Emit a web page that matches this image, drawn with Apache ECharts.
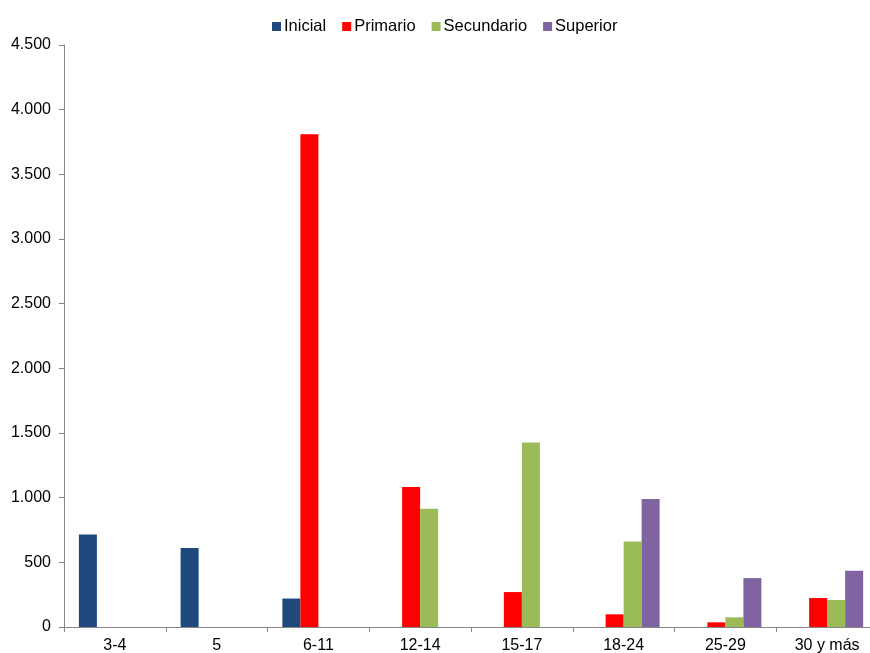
<!DOCTYPE html>
<html>
<head>
<meta charset="utf-8">
<script src="https://cdn.jsdelivr.net/npm/echarts@6/dist/echarts.min.js"></script>
<style>
  html, body { margin: 0; padding: 0; background: #fff; overflow: hidden; }
  #chart { width: 870px; height: 653px; }
</style>
</head>
<body>
<div id="chart"></div>
<script>
// Age groups on the category axis
const categories = ['3-4', '5', '6-11', '12-14', '15-17', '18-24', '25-29', '30 y más'];

// Enrolment by education level per age group
const inicial    = [715, 610, 220, null, null, null, null, null];
const primario   = [null, null, 3810, 1082, 270, 98, 36, 224];
const secundario = [null, null, null, 915, 1427, 662, 75, 209];
const superior   = [null, null, null, null, null, 989, 378, 435];

const seriesNames = ['Inicial', 'Primario', 'Secundario', 'Superior'];
const seriesColors = ['#1F497D', '#FF0000', '#9BBB59', '#8064A2'];
const seriesData = [inicial, primario, secundario, superior];

const fontFamily = 'Liberation Sans, Arial, sans-serif';

function fmtThousands(v) {
  return String(v).replace(/\B(?=(\d{3})+(?!\d))/g, '.');
}

const chart = echarts.init(document.getElementById('chart'));
chart.setOption({
  animation: false,
  textStyle: { fontFamily: fontFamily },
  legend: {
    top: 18,
    left: 272,
    padding: 0,
    itemWidth: 9,
    itemHeight: 9,
    itemGap: 16,
    icon: 'rect',
    textStyle: { fontSize: 16.5, color: '#000', fontFamily: fontFamily, padding: [0, 0, 0, -2] },
    data: seriesNames
  },
  // The plot extends slightly past the right edge of the canvas
  grid: {
    left: 64, width: 814, top: 45, bottom: 26,
    containLabel: false,
    outerBoundsMode: 'none'
  },
  xAxis: {
    type: 'category',
    data: categories,
    axisLine: { lineStyle: { color: '#868686', width: 1 } },
    axisTick: { show: true, length: 5, lineStyle: { color: '#868686' } },
    axisLabel: { color: '#000', fontSize: 16, margin: 11, fontFamily: fontFamily }
  },
  yAxis: {
    type: 'value',
    min: 0,
    max: 4500,
    interval: 500,
    splitLine: { show: false },
    axisLine: { show: true, lineStyle: { color: '#868686', width: 1 } },
    axisTick: { show: true, length: 5, lineStyle: { color: '#868686' } },
    axisLabel: {
      color: '#000',
      fontSize: 16,
      margin: 13,
      fontFamily: fontFamily,
      formatter: fmtThousands
    }
  },
  series: seriesNames.map((name, i) => ({
    name: name,
    type: 'bar',
    data: seriesData[i],
    barWidth: 18,
    barGap: '0%',
    itemStyle: { color: seriesColors[i] }
  }))
});
</script>
</body>
</html>
